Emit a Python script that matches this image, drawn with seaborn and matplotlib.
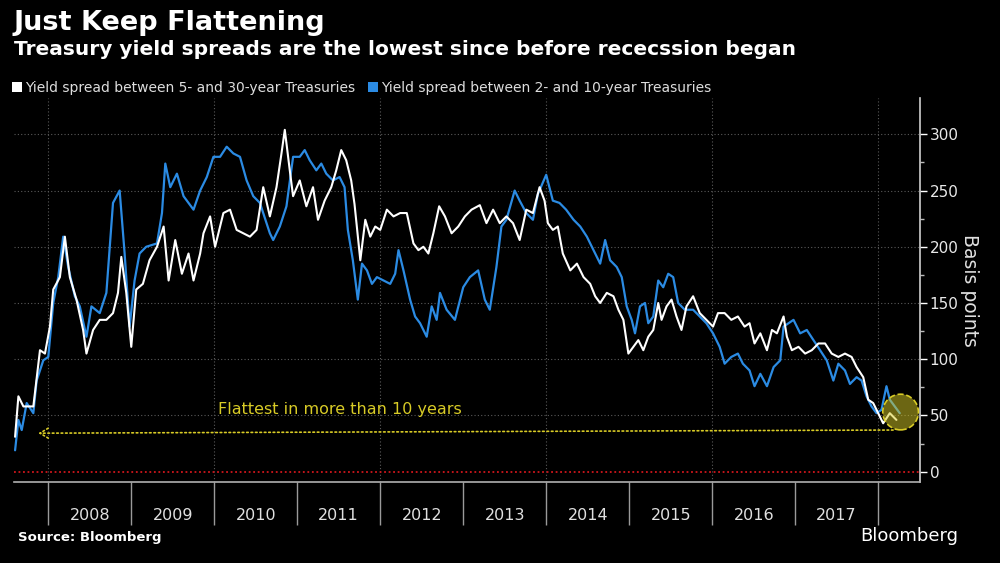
import pandas as pd
import seaborn as sns
import matplotlib.pyplot as plt
from matplotlib.patches import Patch

# Yield spread between 5- and 30-year Treasuries (basis points)
white_year = [2007.60, 2007.64, 2007.70, 2007.76, 2007.82, 2007.90, 2007.96, 2008.02, 2008.06, 2008.14,
              2008.20, 2008.26, 2008.34, 2008.42, 2008.46, 2008.54, 2008.62, 2008.70, 2008.78, 2008.84,
              2008.88, 2008.94, 2009.00, 2009.06, 2009.14, 2009.22, 2009.31, 2009.39, 2009.45, 2009.53,
              2009.61, 2009.69, 2009.75, 2009.83, 2009.87, 2009.95, 2010.01, 2010.11, 2010.19, 2010.27,
              2010.35, 2010.43, 2010.51, 2010.59, 2010.67, 2010.75, 2010.81, 2010.85, 2010.91, 2010.95,
              2011.03, 2011.11, 2011.19, 2011.25, 2011.33, 2011.41, 2011.47, 2011.53, 2011.59, 2011.65,
              2011.69, 2011.76, 2011.82, 2011.88, 2011.94, 2012.00, 2012.08, 2012.16, 2012.24, 2012.32,
              2012.40, 2012.46, 2012.52, 2012.58, 2012.64, 2012.71, 2012.78, 2012.86, 2012.94, 2013.02,
              2013.10, 2013.20, 2013.28, 2013.36, 2013.44, 2013.52, 2013.60, 2013.68, 2013.76, 2013.84,
              2013.92, 2013.98, 2014.02, 2014.08, 2014.14, 2014.20, 2014.29, 2014.37, 2014.45, 2014.53,
              2014.59, 2014.65, 2014.73, 2014.81, 2014.87, 2014.93, 2014.99, 2015.05, 2015.11, 2015.17,
              2015.23, 2015.29, 2015.35, 2015.39, 2015.45, 2015.51, 2015.57, 2015.63, 2015.69, 2015.77,
              2015.85, 2015.93, 2016.01, 2016.07, 2016.15, 2016.23, 2016.31, 2016.39, 2016.45, 2016.51,
              2016.58, 2016.66, 2016.72, 2016.78, 2016.86, 2016.90, 2016.96, 2017.04, 2017.12, 2017.20,
              2017.28, 2017.36, 2017.44, 2017.52, 2017.60, 2017.68, 2017.74, 2017.82, 2017.88, 2017.94,
              2018.00, 2018.06, 2018.14, 2018.22]
white_bp = [31, 67, 58, 58, 58, 108, 105, 129, 162, 173,
            209, 173, 153, 126, 105, 126, 135, 135, 141, 159,
            191, 159, 111, 162, 167, 188, 200, 218, 170, 206,
            176, 194, 170, 194, 212, 227, 200, 230, 233, 215,
            212, 209, 215, 253, 227, 253, 283, 304, 268, 245,
            259, 236, 253, 224, 241, 253, 268, 286, 277, 259,
            238, 188, 224, 209, 218, 215, 233, 227, 230, 230,
            203, 197, 200, 194, 212, 236, 227, 212, 218, 227,
            233, 237, 221, 233, 221, 227, 221, 206, 233, 230,
            253, 241, 221, 215, 218, 194, 179, 185, 173, 167,
            156, 150, 159, 156, 144, 135, 105, 111, 117, 108,
            120, 126, 150, 135, 147, 153, 138, 126, 147, 156,
            141, 135, 129, 141, 141, 135, 138, 129, 132, 114,
            123, 108, 126, 123, 138, 120, 108, 111, 105, 108,
            114, 114, 105, 102, 105, 102, 93, 84, 64, 61,
            52, 43, 52, 46]

# Yield spread between 2- and 10-year Treasuries (basis points)
blue_year = [2007.60, 2007.64, 2007.68, 2007.74, 2007.82, 2007.86, 2007.94, 2008.00, 2008.06, 2008.12,
             2008.18, 2008.24, 2008.32, 2008.38, 2008.46, 2008.52, 2008.62, 2008.70, 2008.78, 2008.86,
             2008.92, 2008.98, 2009.04, 2009.10, 2009.18, 2009.31, 2009.37, 2009.41, 2009.47, 2009.55,
             2009.63, 2009.75, 2009.83, 2009.91, 2009.99, 2010.07, 2010.15, 2010.23, 2010.31, 2010.39,
             2010.47, 2010.55, 2010.63, 2010.67, 2010.71, 2010.79, 2010.87, 2010.95,
             2011.03, 2011.09, 2011.15, 2011.23, 2011.29, 2011.35, 2011.43, 2011.51, 2011.57, 2011.61,
             2011.67, 2011.73, 2011.78, 2011.84, 2011.90, 2011.96, 2012.04, 2012.12, 2012.18, 2012.22,
             2012.28, 2012.36, 2012.42, 2012.48, 2012.56, 2012.62, 2012.68, 2012.72, 2012.80, 2012.90,
             2013.00, 2013.08, 2013.18, 2013.26, 2013.32, 2013.40, 2013.46, 2013.52, 2013.62, 2013.68,
             2013.76, 2013.84, 2013.90, 2014.00, 2014.08, 2014.16, 2014.24, 2014.33, 2014.41, 2014.49,
             2014.57,
             2014.65, 2014.71, 2014.77, 2014.85, 2014.91, 2014.97, 2015.03, 2015.07, 2015.13, 2015.19,
             2015.23, 2015.29, 2015.35, 2015.41, 2015.47, 2015.53, 2015.59, 2015.67, 2015.77, 2015.85,
             2015.93, 2016.01, 2016.09, 2016.15, 2016.23, 2016.31, 2016.37, 2016.45, 2016.51, 2016.58,
             2016.66, 2016.74, 2016.82, 2016.86, 2016.92, 2016.98, 2017.06, 2017.14, 2017.22, 2017.30,
             2017.38, 2017.46, 2017.52, 2017.60, 2017.66, 2017.74, 2017.80, 2017.86, 2017.92, 2017.98,
             2018.04, 2018.10, 2018.14, 2018.20, 2018.26]
blue_bp = [19, 46, 37, 61, 52, 81, 99, 102, 150, 173,
           209, 182, 156, 147, 120, 147, 141, 159, 239, 250,
           194, 129, 170, 194, 200, 203, 230, 274, 253, 265,
           245, 233, 250, 262, 280, 280, 289, 283, 280, 259,
           245, 239, 221, 212, 206, 218, 236, 280,
           280, 286, 277, 268, 274, 265, 259, 262, 253, 215,
           188, 153, 185, 179, 167, 173, 170, 167, 176, 197,
           179, 153, 138, 132, 120, 147, 135, 159, 144, 135,
           164, 173, 179, 153, 144, 182, 218, 224, 250, 241,
           230, 224, 247, 264, 241, 239, 233, 224, 218, 209,
           197,
           185, 206, 188, 182, 173, 147, 135, 123, 147, 150,
           132, 138, 170, 164, 176, 173, 150, 144, 144, 138,
           132, 123, 111, 96, 102, 105, 96, 90, 76, 87,
           76, 93, 99, 129, 132, 135, 123, 126, 117, 108,
           99, 81, 96, 90, 78, 84, 81, 67, 58, 52,
           55, 76, 64, 58, 52]

year_labels = ["2008", "2009", "2010", "2011", "2012", "2013", "2014", "2015", "2016", "2017"]
year_starts = [2008, 2009, 2010, 2011, 2012, 2013, 2014, 2015, 2016, 2017, 2018]
bp_ticks = [0, 50, 100, 150, 200, 250, 300]
bp_minor = [25, 75, 125, 175, 225, 275]

YELLOW = "#d8cb26"
BLUE = "#2b8be3"
GRID = "#5a5a5a"

sns.set_theme(style="dark", rc={"axes.facecolor": "black", "figure.facecolor": "black",
                                "savefig.facecolor": "black"})
plt.rcParams['font.family'] = ['DejaVu Sans']

fig = plt.figure(figsize=(10, 5.63), dpi=100)
ax = fig.add_axes([0.014, 0.1439, 0.906, 0.682])

df_white = pd.DataFrame({"year": white_year, "bp": white_bp})
df_blue = pd.DataFrame({"year": blue_year, "bp": blue_bp})

# grid
for v in bp_ticks[1:]:
    ax.axhline(v, color=GRID, lw=0.8, ls=(0, (1, 2)), zorder=1)
for yr in year_starts[::2]:
    ax.axvline(yr, color=GRID, lw=0.8, ls=(0, (1, 2)), zorder=1)
ax.axhline(0, color="#d0161b", lw=1.3, ls=(0, (1, 1.5)), zorder=2)

sns.lineplot(data=df_blue, x="year", y="bp", color=BLUE, lw=1.6, ax=ax, zorder=3)
sns.lineplot(data=df_white, x="year", y="bp", color="white", lw=1.5, ax=ax, zorder=4)

# highlight of the latest reading
ax.scatter([2018.27], [53], s=660, facecolor=(0.85, 0.80, 0.15, 0.5), edgecolor=YELLOW,
           linestyle="--", linewidth=1.2, zorder=6)
ax.annotate("", xy=(2007.88, 34.2), xytext=(2018.18, 37.0),
            arrowprops=dict(arrowstyle="->,head_length=0.5,head_width=0.3", color=YELLOW,
                            lw=1.2, linestyle=":", shrinkA=0, shrinkB=0), zorder=5)
ax.text(2010.04, 55, "Flattest in more than 10 years", color=YELLOW, fontsize=11.5,
        va="center", ha="left", zorder=5)

ax.set_xlim(2007.587, 2018.504)
ax.set_ylim(-9.2, 332.3)
ax.set_xlabel("")
ax.set_ylabel("")

# x axis: long ticks at year boundaries, labels centred in each year
ax.set_xticks(year_starts)
ax.set_xticklabels([])
ax.set_xticks([y + 0.5 for y in year_starts[:-1]], minor=True)
ax.set_xticklabels(year_labels, minor=True)
ax.tick_params(axis="x", which="major", direction="out", length=31, width=1, color="#9a9a9a",
               bottom=True)
ax.tick_params(axis="x", which="minor", length=0, pad=19, labelsize=11.5, labelcolor="#e0e0e0",
               bottom=True)

# y axis on the right
ax.yaxis.tick_right()
ax.set_yticks(bp_ticks)
ax.set_yticks(bp_minor, minor=True)
ax.tick_params(axis="y", which="major", direction="out", length=5, width=1, color="white",
               labelsize=11, labelcolor="#e8e8e8", pad=2, right=True)
ax.tick_params(axis="y", which="minor", direction="out", length=3, width=1, color="#bbbbbb",
               right=True)
ax.grid(False)

for side in ["left", "top"]:
    ax.spines[side].set_visible(False)
ax.spines["right"].set_color("#cfcfcf")
ax.spines["right"].set_linewidth(1.2)
ax.spines["bottom"].set_color("#b0b0b0")
ax.spines["bottom"].set_linewidth(1.2)

fig.text(0.970, 0.485, "Basis points", rotation=270, color="#e0e0e0", fontsize=13.5,
         ha="center", va="center")

# titles
fig.text(0.014, 0.9467, "Just Keep Flattening", color="white", fontsize=19.5, fontweight="bold",
         va="baseline", ha="left")
fig.text(0.014, 0.9023, "Treasury yield spreads are the lowest since before rececssion began",
         color="white", fontsize=14.5, fontweight="bold", va="baseline", ha="left")

handles = [Patch(facecolor="white", edgecolor="none"), Patch(facecolor=BLUE, edgecolor="none")]
labels = ["Yield spread between 5- and 30-year Treasuries",
          "Yield spread between 2- and 10-year Treasuries"]
fig.legend(handles, labels, loc="lower left", bbox_to_anchor=(0.012, 0.832), ncol=2,
           frameon=False, fontsize=10, handlelength=0.7, handleheight=0.7, handletextpad=0.25,
           columnspacing=0.9, labelcolor="#dddddd", borderaxespad=0, borderpad=0)

fig.text(0.018, 0.039, "Source: Bloomberg", color="white", fontsize=9.5, fontweight="bold",
         va="baseline", ha="left")
fig.text(0.958, 0.039, "Bloomberg", color="white", fontsize=13, va="baseline", ha="right")

fig.savefig("out.png", dpi=100, facecolor="black")
